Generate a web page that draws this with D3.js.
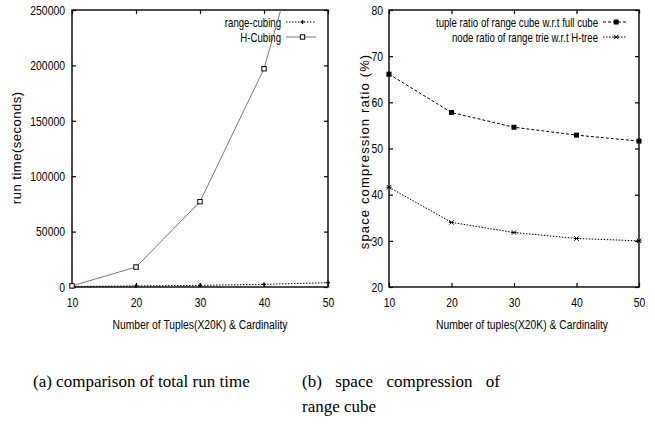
<!DOCTYPE html>
<html>
<head>
<meta charset="utf-8">
<script src="https://cdn.jsdelivr.net/npm/d3@7/dist/d3.min.js"></script>
<style>
  body { margin: 0; background: #fff; }
  svg { display: block; }
  text { font-family: "Liberation Sans", Arial, sans-serif; fill: #000; }
  .caption { font-family: "Liberation Serif", "Times New Roman", serif; font-size: 17px; }
</style>
</head>
<body>
<svg id="chart" width="655" height="425"></svg>
<script>
// x values shared by both panels
const cardinality = [10, 20, 30, 40, 50];
const xTicks = [10, 20, 30, 40, 50];

// (a) run time in seconds
const rangeCubing = [500, 900, 1500, 2400, 3900];
const hCubing = [1000, 18000, 77000, 197000, 400000];
const runTimeTicks = [0, 50000, 100000, 150000, 200000, 250000];

// (b) space compression ratio (%)
const tupleRatio = [66.1, 57.8, 54.6, 52.9, 51.6];
const nodeRatio = [41.6, 34.0, 31.8, 30.5, 30.0];
const ratioTicks = [20, 30, 40, 50, 60, 70, 80];

const svg = d3.select("#chart");

// shrink text horizontally to mimic gnuplot's narrow helvetica
function narrow(sel, k, adjust) {
  sel.each(function () {
    const w = this.getComputedTextLength();
    d3.select(this).attr("textLength", w * k).attr("lengthAdjust", adjust || "spacingAndGlyphs");
  });
}

function panel(opt) {
  const x = d3.scaleLinear().domain([10, 50]).range([opt.left, opt.right]);
  const y = d3.scaleLinear().domain(opt.yDomain).range([287, 10]);
  const g = svg.append("g");

  const clipId = "clip-" + opt.id;
  svg.append("clipPath").attr("id", clipId)
    .append("rect").attr("x", opt.left).attr("y", 10)
    .attr("width", opt.right - opt.left).attr("height", 277);

  // axes with inward ticks, mirrored on the opposite sides
  const ax = (gen, tr) => g.append("g").attr("transform", tr).call(gen)
    .call(s => s.select(".domain").remove())
    .call(s => s.selectAll("line").attr("stroke-width", 1.2))
    .call(s => s.selectAll("text").style("font-size", "13.5px").style("font-family", "Liberation Sans"));

  ax(d3.axisBottom(x).tickValues(xTicks).tickSize(-4).tickPadding(10).tickFormat(d3.format("d")), "translate(0,287)");
  ax(d3.axisTop(x).tickValues(xTicks).tickSize(-4).tickFormat(""), "translate(0,10)");
  ax(d3.axisLeft(y).tickValues(opt.yTicks).tickSize(-4).tickPadding(opt.yPad).tickFormat(d3.format("d")), `translate(${opt.left},0)`);
  ax(d3.axisRight(y).tickValues(opt.yTicks).tickSize(-4).tickFormat(""), `translate(${opt.right},0)`);
  g.selectAll(".tick text").call(narrow, 0.77);

  g.append("rect")
    .attr("x", opt.left).attr("y", 10)
    .attr("width", opt.right - opt.left).attr("height", 277)
    .attr("fill", "none").attr("stroke", "#000").attr("stroke-width", 1.4);

  // axis titles
  g.append("text")
    .attr("x", opt.xTitleX).attr("y", 329)
    .attr("text-anchor", "middle").style("font-size", "12px")
    .text(opt.xTitle).call(narrow, 0.86);
  g.append("text")
    .attr("transform", `translate(${opt.yTitleX},${opt.yTitleY}) rotate(-90)`)
    .attr("text-anchor", "middle").style("font-size", "13px")
    .text(opt.yTitle).call(narrow, opt.yTitleK, "spacing");

  // series
  opt.series.forEach((s, i) => {
    const pts = cardinality.map((c, j) => [c, s.values[j]]);
    const line = d3.line().x(d => x(d[0])).y(d => y(d[1]));
    g.append("path")
      .attr("d", line(pts))
      .attr("clip-path", `url(#${clipId})`)
      .attr("fill", "none")
      .attr("stroke", s.color)
      .attr("stroke-width", 1)
      .attr("stroke-dasharray", s.dash);
    const inside = pts.filter(d => d[1] <= opt.yDomain[1]);
    inside.forEach(d => marker(g, s.marker, x(d[0]), y(d[1])));

    // legend entry
    const ly = 22 + i * 15;
    g.append("text")
      .attr("x", opt.legendX).attr("y", ly + 4.5)
      .attr("text-anchor", "end").style("font-size", "13px")
      .text(s.name).call(narrow, opt.legendK);
    g.append("line")
      .attr("x1", opt.legendX + 5).attr("x2", opt.legendX + opt.sampleLen)
      .attr("y1", ly).attr("y2", ly)
      .attr("stroke", s.color).attr("stroke-width", 1)
      .attr("stroke-dasharray", s.dash);
    marker(g, s.marker, opt.legendX + 5 + (opt.sampleLen - 5) * 0.55, ly);
  });
}

function marker(g, type, cx, cy) {
  if (type === "openSquare") {
    g.append("rect").attr("x", cx - 2.2).attr("y", cy - 2.2).attr("width", 4.4).attr("height", 4.4)
      .attr("fill", "#fff").attr("stroke", "#000").attr("stroke-width", 1);
  } else if (type === "square") {
    g.append("rect").attr("x", cx - 2.5).attr("y", cy - 2.5).attr("width", 5).attr("height", 5)
      .attr("fill", "#000");
  } else if (type === "plus") {
    g.append("path").attr("d", `M${cx - 2},${cy}h4M${cx},${cy - 2}v4`)
      .attr("stroke", "#000").attr("stroke-width", 1.2);
  } else if (type === "star") {
    g.append("path")
      .attr("d", `M${cx - 2.2},${cy - 2.2}L${cx + 2.2},${cy + 2.2}M${cx - 2.2},${cy + 2.2}L${cx + 2.2},${cy - 2.2}M${cx - 2.6},${cy}h5.2`)
      .attr("stroke", "#000").attr("stroke-width", 1);
  }
}

panel({
  id: "a", left: 72, right: 328, yPad: 7,
  yDomain: [0, 250000], yTicks: runTimeTicks,
  xTitle: "Number of Tuples(X20K) & Cardinality", xTitleX: 200,
  yTitle: "run time(seconds)", yTitleX: 21, yTitleY: 148, yTitleK: 1.08,
  legendX: 281, legendK: 0.74, sampleLen: 35,
  series: [
    { name: "range-cubing", values: rangeCubing, color: "#000", dash: "1.5,1.5", marker: "plus" },
    { name: "H-Cubing", values: hCubing, color: "#777", dash: null, marker: "openSquare" }
  ]
});

panel({
  id: "b", left: 389, right: 639, yPad: 6,
  yDomain: [20, 80], yTicks: ratioTicks,
  xTitle: "Number of tuples(X20K) & Cardinality", xTitleX: 522,
  yTitle: "space compression ratio (%)", yTitleX: 369, yTitleY: 152, yTitleK: 1.18,
  legendX: 598, legendK: 0.74, sampleLen: 29,
  series: [
    { name: "tuple ratio of range cube w.r.t full cube", values: tupleRatio, color: "#000", dash: "3,2", marker: "square" },
    { name: "node ratio of range trie w.r.t H-tree", values: nodeRatio, color: "#000", dash: "1.5,1.5", marker: "star" }
  ]
});

// captions
svg.append("text").attr("class", "caption").attr("x", 33).attr("y", 387)
  .text("(a) comparison of total run time");

// justified first line of caption (b)
const words = ["(b)", "space", "compression", "of"];
const capLeft = 302, capRight = 500;
const wordNodes = words.map(w => svg.append("text").attr("class", "caption").attr("y", 387).text(w));
const widths = wordNodes.map(n => n.node().getComputedTextLength());
const gap = (capRight - capLeft - d3.sum(widths)) / (words.length - 1);
let cx = capLeft;
wordNodes.forEach((n, i) => { n.attr("x", cx); cx += widths[i] + gap; });
svg.append("text").attr("class", "caption").attr("x", capLeft).attr("y", 412).text("range cube");
</script>
</body>
</html>
